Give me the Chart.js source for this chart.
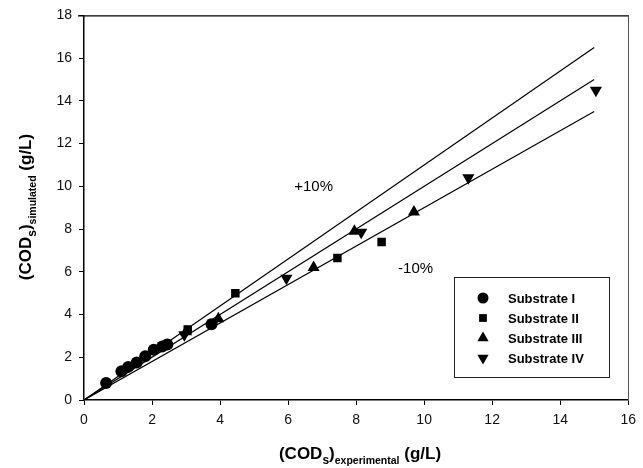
<!DOCTYPE html>
<html>
<head>
<meta charset="utf-8">
<script src="https://cdn.jsdelivr.net/npm/chart.js@4/dist/chart.umd.min.js"></script>
<style>
  body { margin: 0; background: #fff; }
  #wrap { width: 643px; height: 468px; }
</style>
</head>
<body>
<div id="wrap"><canvas id="chart" width="643" height="468"></canvas></div>
<script>
// measured (x) vs simulated (y), g/L
const substrate1 = [[0.65, 0.8], [1.1, 1.35], [1.3, 1.55], [1.55, 1.75], [1.8, 2.05], [2.05, 2.35], [2.3, 2.5], [2.45, 2.6], [3.75, 3.55]];
const substrate2 = [[3.05, 3.3], [4.45, 5.0], [7.45, 6.65], [8.75, 7.4]];
const substrate3 = [[3.0, 3.2], [3.95, 3.8], [6.75, 6.2], [7.95, 7.9], [9.7, 8.8]];
const substrate4 = [[2.95, 3.05], [3.8, 3.6], [5.95, 5.7], [8.15, 7.85], [11.3, 10.4], [15.05, 14.5]];
const lineEndX = 15;
const lineFactors = [1.1, 1.0, 0.9];
const xTicks = [0, 2, 4, 6, 8, 10, 12, 14, 16];
const yTicks = [0, 2, 4, 6, 8, 10, 12, 14, 16, 18];
const seriesNames = ['Substrate I', 'Substrate II', 'Substrate III', 'Substrate IV'];

const toPts = arr => arr.map(p => ({ x: p[0], y: p[1] }));

const markerStyles = [
    { pointStyle: 'circle', radius: 6, rotation: 0 },
    { pointStyle: 'rect', radius: 6, rotation: 0 },
    { pointStyle: 'triangle', radius: 7, rotation: 0 },
    { pointStyle: 'triangle', radius: 7, rotation: 180 }
];

let datasets = [];
lineFactors.forEach(f => {
    datasets.push({
        type: 'line',
        data: [{ x: 0, y: 0 }, { x: lineEndX, y: lineEndX * f }],
        borderColor: '#000',
        borderWidth: 1.2,
        pointRadius: 0,
        fill: false,
        order: 2
    });
});
[substrate1, substrate2, substrate3, substrate4].forEach((s, i) => {
    datasets.push({
        type: 'scatter',
        label: seriesNames[i],
        data: toPts(s),
        backgroundColor: '#000',
        borderColor: '#000',
        borderWidth: 0,
        pointStyle: markerStyles[i].pointStyle,
        pointRadius: markerStyles[i].radius,
        rotation: markerStyles[i].rotation,
        order: 1
    });
});

// text with subscripts, drawn piece by piece
function drawRich(ctx, parts, cx, cy) {
    let total = 0;
    parts.forEach(p => { ctx.font = p.font; total += ctx.measureText(p.t).width; });
    let x = cx - total / 2;
    parts.forEach(p => {
        ctx.font = p.font;
        ctx.fillText(p.t, x, cy + (p.dy || 0));
        x += ctx.measureText(p.t).width;
    });
}

const big = 'bold 17px "Liberation Sans", Arial, sans-serif';
const sub = 'bold 12px "Liberation Sans", Arial, sans-serif';
const small = 'bold 10.5px "Liberation Sans", Arial, sans-serif';

const decorPlugin = {
    id: 'decor',
    afterDatasetsDraw(chart) {
        const ctx = chart.ctx;
        const xs = chart.scales.x, ys = chart.scales.y;
        const area = chart.chartArea;
        ctx.save();
        // top frame line sticks out a bit to the left, like a tick
        ctx.strokeStyle = '#000';
        ctx.lineWidth = 1.2;
        ctx.beginPath();
        ctx.moveTo(area.left - 6, area.top + 0.5);
        ctx.lineTo(area.right, area.top + 0.5);
        ctx.stroke();

        ctx.fillStyle = '#000';
        ctx.textBaseline = 'alphabetic';

        // band labels
        ctx.font = '15px "Liberation Sans", Arial, sans-serif';
        ctx.textAlign = 'center';
        ctx.fillText('+10%', xs.getPixelForValue(6.75), ys.getPixelForValue(9.8));
        ctx.fillText('-10%', xs.getPixelForValue(9.75), ys.getPixelForValue(5.95));

        // axis titles
        ctx.textAlign = 'left';
        drawRich(ctx, [
            { t: '(COD', font: big },
            { t: 's', font: sub, dy: 5 },
            { t: ')', font: big },
            { t: 'experimental', font: small, dy: 5 },
            { t: ' (g/L)', font: big }
        ], 360, 459);

        ctx.save();
        ctx.translate(31, 207);
        ctx.rotate(-Math.PI / 2);
        drawRich(ctx, [
            { t: '(COD', font: big },
            { t: 's', font: sub, dy: 5 },
            { t: ')', font: big },
            { t: 'simulated', font: small, dy: 5 },
            { t: ' (g/L)', font: big }
        ], 0, 0);
        ctx.restore();

        // legend box
        const bx = 454, by = 277, bw = 155, bh = 100;
        ctx.fillStyle = '#fff';
        ctx.fillRect(bx, by, bw, bh);
        ctx.strokeStyle = '#222';
        ctx.lineWidth = 1;
        ctx.strokeRect(bx + 0.5, by + 0.5, bw, bh);
        ctx.fillStyle = '#000';
        ctx.font = 'bold 13px "Liberation Sans", Arial, sans-serif';
        ctx.textBaseline = 'middle';
        seriesNames.forEach((name, i) => {
            const yy = by + 21 + i * 20;
            Chart.helpers.drawPoint(ctx, {
                pointStyle: markerStyles[i].pointStyle,
                radius: markerStyles[i].radius - 0.5,
                rotation: markerStyles[i].rotation,
                borderWidth: 0
            }, 483, yy);
            ctx.fillText(name, 508, yy + 1);
        });
        ctx.restore();
    }
};

const tickFont = { size: 14, family: '"Liberation Sans", Arial, sans-serif' };

new Chart(document.getElementById('chart'), {
    type: 'scatter',
    data: { datasets: datasets },
    options: {
        responsive: false,
        animation: false,
        layout: { padding: { top: 15, right: 9, left: 0, bottom: 0 } },
        plugins: { legend: { display: false }, tooltip: { enabled: false } },
        scales: {
            x: {
                type: 'linear',
                min: 0, max: 16,
                afterBuildTicks: axis => { axis.ticks = xTicks.map(v => ({ value: v })); },
                afterFit: axis => { axis.height = 68; },
                grid: { drawOnChartArea: false, color: '#000', tickLength: 5, tickWidth: 1 },
                border: { color: '#000', width: 1.5 },
                ticks: { color: '#111', padding: 7, font: tickFont, maxRotation: 0 }
            },
            y: {
                type: 'linear',
                min: 0, max: 18,
                afterBuildTicks: axis => { axis.ticks = yTicks.map(v => ({ value: v })); },
                afterFit: axis => { axis.width = 84; },
                grid: { drawOnChartArea: false, color: '#000', tickLength: 5, tickWidth: 1 },
                border: { color: '#000', width: 1.5 },
                ticks: { color: '#111', padding: 7, font: tickFont }
            },
            yr: {
                type: 'linear',
                position: 'right',
                min: 0, max: 18,
                afterFit: axis => { axis.width = 1; },
                grid: { display: false },
                border: { color: '#555', width: 1 },
                ticks: { display: false }
            }
        }
    },
    plugins: [decorPlugin]
});
</script>
</body>
</html>
